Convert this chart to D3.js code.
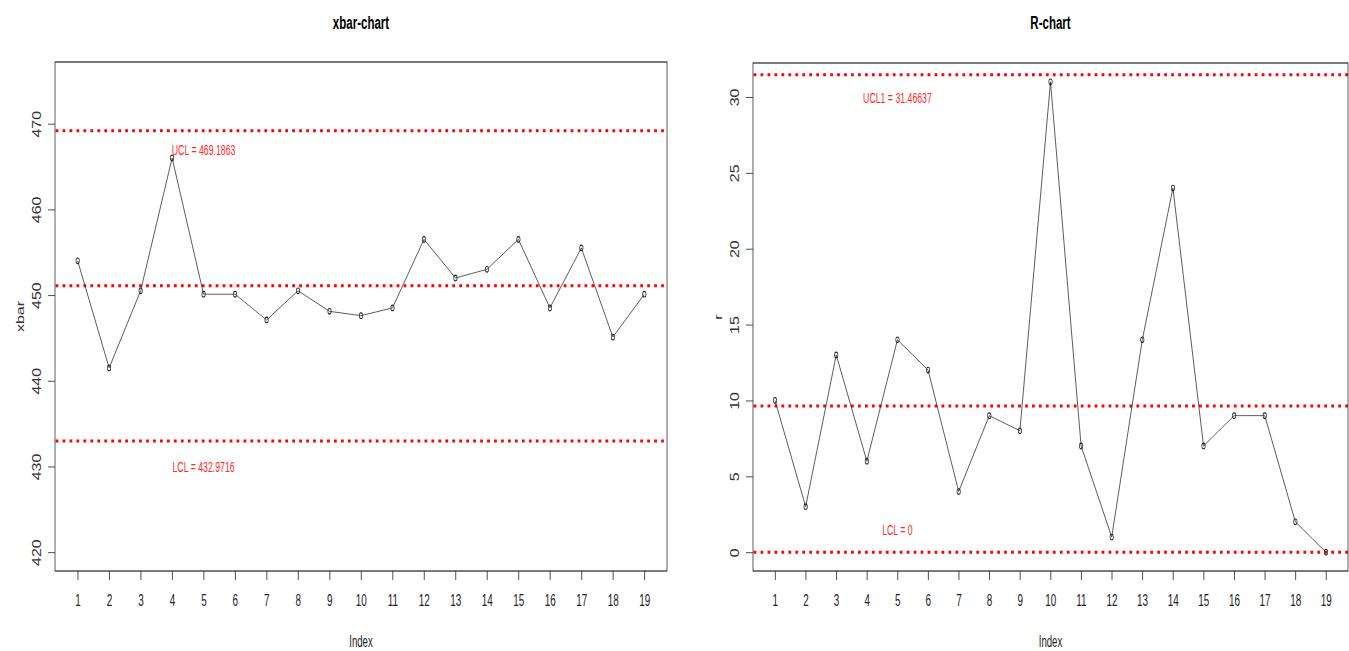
<!DOCTYPE html>
<html>
<head>
<meta charset="utf-8">
<script src="https://cdn.jsdelivr.net/npm/d3@7"></script>
<style>
  html, body { margin: 0; padding: 0; background: #fff; }
  svg { display: block; }
  text { font-family: "Liberation Sans", Arial, sans-serif; }
</style>
</head>
<body>
<svg id="chart" width="1349" height="651"></svg>
<script>
// Sample numbers (subgroups of size 2)
const sampleIndex = [1, 2, 3, 4, 5, 6, 7, 8, 9, 10, 11, 12, 13, 14, 15, 16, 17, 18, 19];

// Subgroup means
const xbarValues = [454.0, 441.5, 450.5, 466.0, 450.1, 450.1, 447.1, 450.5, 448.1, 447.6,
                    448.5, 456.5, 452.0, 453.0, 456.5, 448.5, 455.5, 445.1, 450.1];

// Subgroup ranges
const rangeValues = [10, 3, 13, 6, 14, 12, 4, 9, 8, 31, 7, 1, 14, 24, 7, 9, 9, 2, 0];

// Control limits
const xbarLimits = [469.1863, 451.0790, 432.9716];   // UCL, CL, LCL
const rangeLimits = [31.46637, 9.631579, 0];        // UCL1, CL, LCL

// Limit annotations: [text, x position (index), y value]
const xbarNotes = [["UCL = 469.1863", 5, 467.0], ["LCL = 432.9716", 5, 430.0]];
const rangeNotes = [["UCL1 = 31.46637", 5, 29.95], ["LCL = 0", 5, 1.45]];

// Axis tick labels
const xbarTicks = [420, 430, 440, 450, 460, 470];
const rangeTicks = [0, 5, 10, 15, 20, 25, 30];

// The device is horizontally condensed: everything is laid out in a wider
// space and squeezed by K along x.
const K = 0.6;
const wx = v => v / K;

const svg = d3.select("#chart");
svg.append("rect").attr("width", 1349).attr("height", 651).attr("fill", "#fff");
const root = svg.append("g").attr("transform", `scale(${K},1)`);

function panel(cfg) {
  const g = root.append("g");
  const x = d3.scaleLinear().domain([0.28, 19.72]).range([wx(cfg.left), wx(cfg.right)]);
  const y = d3.scaleLinear().domain(cfg.yDomain).range([cfg.bottom, cfg.top]);

  // title
  g.append("text")
    .attr("x", wx((cfg.left + cfg.right) / 2)).attr("y", 29)
    .attr("text-anchor", "middle").attr("font-size", 19.2).attr("font-weight", "bold")
    .attr("fill", "#000").text(cfg.title);

  // x axis
  const xa = g.append("g").attr("transform", `translate(0,${cfg.bottom})`)
    .call(d3.axisBottom(x).tickValues(sampleIndex).tickFormat(d3.format("d"))
      .tickSize(9).tickPadding(14));
  xa.select(".domain").remove();
  xa.selectAll("line").attr("stroke", "#222");
  xa.selectAll("text").attr("font-size", 16.5).attr("fill", "#222");

  // y axis with labels parallel to the axis
  const ya = g.append("g").attr("transform", `translate(${wx(cfg.left)},0)`)
    .call(d3.axisLeft(y).tickValues(cfg.ticks).tickFormat(d3.format("d")).tickSize(wx(7)));
  ya.select(".domain").remove();
  ya.selectAll("line").attr("stroke", "#222");
  ya.selectAll("text")
    .attr("transform", `translate(${-wx(18)},0) rotate(-90) scale(1,1.3)`)
    .attr("x", 0).attr("y", 0).attr("dy", "0.36em")
    .attr("text-anchor", "middle").attr("font-size", 16).attr("fill", "#333");

  // axis titles
  g.append("text")
    .attr("x", wx((cfg.left + cfg.right) / 2)).attr("y", 647)
    .attr("text-anchor", "middle").attr("font-size", 16).attr("fill", "#222")
    .text("Index");
  g.append("text")
    .attr("transform", `translate(${wx(cfg.left - 31)},${(cfg.top + cfg.bottom) / 2}) rotate(-90) scale(1,1.2)`)
    .attr("text-anchor", "middle").attr("font-size", 16).attr("fill", "#333")
    .text(cfg.ylab);

  // control limit lines (dotted red)
  const clip = "clip-" + cfg.id;
  g.append("clipPath").attr("id", clip).append("rect")
    .attr("x", wx(cfg.left)).attr("y", cfg.top)
    .attr("width", wx(cfg.right) - wx(cfg.left)).attr("height", cfg.bottom - cfg.top);
  g.append("g").attr("clip-path", `url(#${clip})`)
    .selectAll("line.limit").data(cfg.limits).join("line")
    .attr("class", "limit")
    .attr("x1", wx(cfg.left) + 1).attr("x2", wx(cfg.right))
    .attr("y1", d => y(d)).attr("y2", d => y(d))
    .attr("stroke", "#ff0000").attr("stroke-width", 3)
    .attr("stroke-dasharray", "4.6 7");

  // limit annotations
  g.selectAll("text.note").data(cfg.notes).join("text")
    .attr("class", "note")
    .attr("x", d => x(d[1])).attr("y", d => y(d[2]))
    .attr("dy", "0.36em").attr("text-anchor", "middle")
    .attr("font-size", 14.6).attr("fill", "#ff2a2a")
    .text(d => d[0]);

  // series line and open circle markers
  const pts = sampleIndex.map((d, i) => [x(d), y(cfg.values[i])]);
  g.append("path")
    .attr("d", d3.line()(pts))
    .attr("fill", "none").attr("stroke", "#333").attr("stroke-width", 1);
  g.selectAll("circle.pt").data(pts).join("circle")
    .attr("class", "pt")
    .attr("cx", d => d[0]).attr("cy", d => d[1]).attr("r", 2.8)
    .attr("fill", "none").attr("stroke", "#222").attr("stroke-width", 1.1);

  // plot box
  g.append("rect")
    .attr("x", wx(cfg.left)).attr("y", cfg.top)
    .attr("width", wx(cfg.right) - wx(cfg.left)).attr("height", cfg.bottom - cfg.top)
    .attr("fill", "none").attr("stroke", "#222").attr("stroke-width", 1.2);
}

panel({
  id: "xbar", title: "xbar-chart", ylab: "xbar",
  left: 55, right: 667, top: 62, bottom: 571,
  yDomain: [417.8, 477.2], ticks: xbarTicks,
  values: xbarValues, limits: xbarLimits, notes: xbarNotes
});

panel({
  id: "range", title: "R-chart", ylab: "r",
  left: 753, right: 1348, top: 63, bottom: 571,
  yDomain: [-1.24, 32.24], ticks: rangeTicks,
  values: rangeValues, limits: rangeLimits, notes: rangeNotes
});
</script>
</body>
</html>
